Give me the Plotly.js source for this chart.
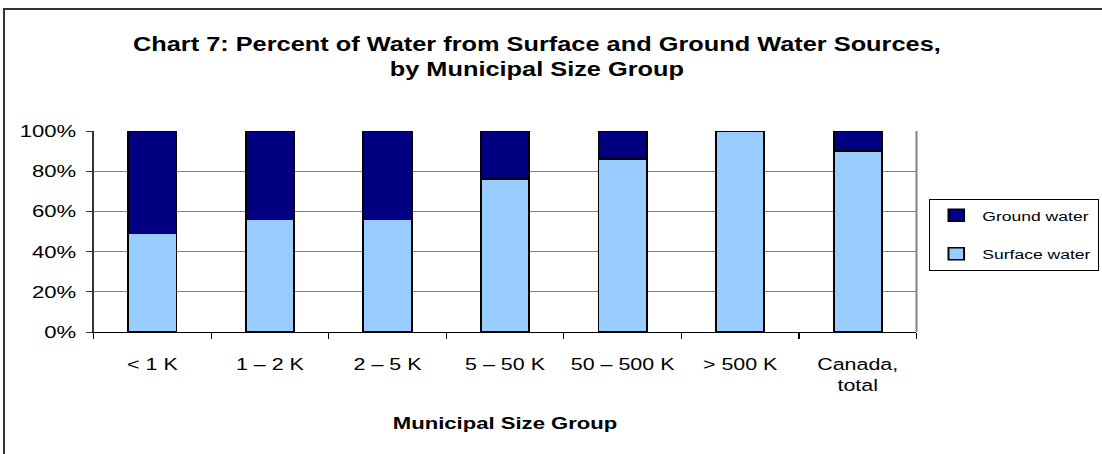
<!DOCTYPE html>
<html>
<head>
<meta charset="utf-8">
<script src="https://cdn.plot.ly/plotly-3.0.1.min.js"></script>
<style>
html,body{margin:0;padding:0;overflow:hidden;background:#fff;}
#wrap{position:relative;width:1102px;height:454px;overflow:hidden;}
#chart{position:absolute;left:0;top:0;width:848px;height:454px;transform:scaleX(1.3);transform-origin:0 0;}
#frame{position:absolute;left:3px;top:8px;width:1200px;height:600px;border-left:2px solid #333;border-top:2px solid #333;pointer-events:none;}
</style>
</head>
<body>
<div id="wrap"><div id="chart"></div><div id="frame"></div></div>
<script>
const categories = ["< 1 K", "1 – 2 K", "2 – 5 K", "5 – 50 K", "50 – 500 K", "> 500 K", "Canada,<br>total"];
const surfaceWater = [49, 56, 56, 76, 86, 100, 90];
const groundWater = [51, 44, 44, 24, 14, 0, 10];
const yTickVals = [0, 20, 40, 60, 80, 100];
const yTickText = ["0%", "20%", "40%", "60%", "80%", "100%"];

const FONT = "Liberation Sans, Arial, sans-serif";

const traces = [
  {type: "bar", name: "Surface water", legendgroup: "s", legendrank: 2, x: categories, y: surfaceWater,
   marker: {color: "#99CCFF", line: {color: "#000000", width: 1.5}}},
  {type: "bar", name: "Ground water", legendgroup: "g", legendrank: 1, x: categories, y: groundWater,
   marker: {color: "#000080", line: {color: "#000000", width: 1.5}}}
];

const layout = {
  width: 848, height: 454,
  margin: {l: 71.5, r: 143.4, t: 131, b: 122, pad: 0},
  paper_bgcolor: "rgba(0,0,0,0)", plot_bgcolor: "#ffffff",
  barmode: "stack", bargap: 0.59,
  font: {family: FONT, color: "#000", size: 16},
  title: {text: "<b>Chart 7: Percent of Water from Surface and Ground Water Sources,<br>by Municipal Size Group</b>",
          font: {family: FONT, size: 19.5, color: "#000"},
          x: 0.487, xanchor: "center", y: 1 - 51/454, yanchor: "top", yref: "container"},
  xaxis: {
    type: "category", showgrid: false, showline: true, linecolor: "#000", linewidth: 1,
    ticks: "outside", tickson: "boundaries", ticklen: 6, tickcolor: "#000",
    ticklabelstandoff: 17, tickfont: {size: 16.5, family: FONT},
    title: {text: "<b>Municipal Size Group</b>", font: {size: 17, family: FONT}, standoff: 23},
    automargin: false
  },
  yaxis: {
    range: [0, 100], tickvals: yTickVals, ticktext: yTickText,
    showgrid: true, gridcolor: "#808080", gridwidth: 1,
    showline: true, linecolor: "#333", linewidth: 1,
    ticks: "outside", ticklen: 5, tickcolor: "#333",
    ticklabelstandoff: 4, tickfont: {size: 17, family: FONT},
    zeroline: false, automargin: false, fixedrange: true
  },
  shapes: [
    {type: "line", xref: "paper", yref: "paper", x0: 1, x1: 1, y0: 0, y1: 1, line: {color: "#808080", width: 1.5}}
  ],
  legend: {
    xref: "container", yref: "container",
    x: 714.6 / 848, xanchor: "left", y: 1 - 199/454, yanchor: "top",
    bordercolor: "#000", borderwidth: 1, bgcolor: "#fff",
    traceorder: "grouped", font: {size: 13.5, family: FONT},
    itemwidth: 30, tracegroupgap: 18
  },
  showlegend: true
};

Plotly.newPlot("chart", traces, layout, {displayModeBar: false, staticPlot: true});
</script>
</body>
</html>
